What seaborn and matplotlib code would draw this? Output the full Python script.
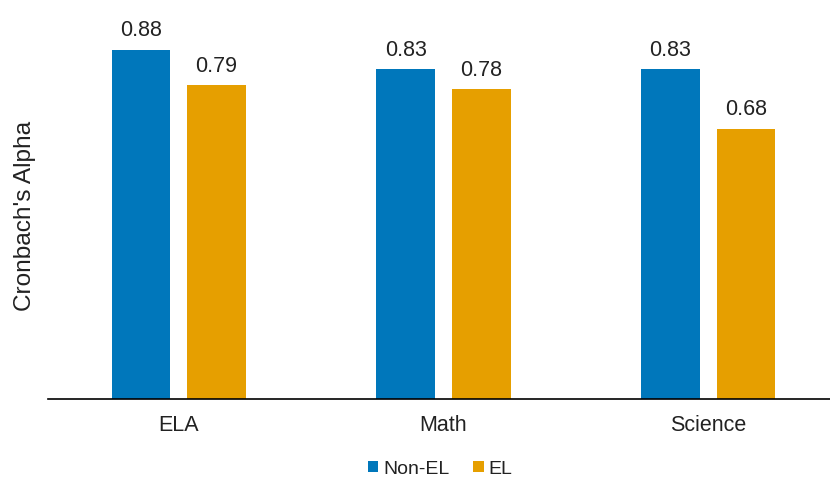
import matplotlib
matplotlib.use("Agg")
import matplotlib.pyplot as plt
import seaborn as sns
import pandas as pd

subjects = ["ELA", "Math", "Science"]
non_el = [0.88, 0.83, 0.83]
el = [0.79, 0.78, 0.68]
groups = ["Non-EL", "EL"]
palette = {"Non-EL": "#0077BB", "EL": "#E69F00"}

df = pd.DataFrame({
    "Subject": subjects * 2,
    "Group": [groups[0]] * len(subjects) + [groups[1]] * len(subjects),
    "Alpha": non_el + el,
})

sns.set_theme(style="white")
plt.rcParams["font.family"] = ["Liberation Sans", "DejaVu Sans"]

fig = plt.figure(figsize=(8.30, 4.81), dpi=100)
ax = fig.add_axes([48 / 830, 81 / 481, 782 / 830, 397 / 481])

sns.barplot(data=df, x="Subject", y="Alpha", hue="Group", hue_order=groups,
            palette=palette, width=0.57, gap=0.22, saturation=1,
            edgecolor="none", ax=ax)

for container in ax.containers:
    ax.bar_label(container, fmt="%.2f", padding=7, fontsize=15.5, color="#222222")

ax.set_ylim(0, 1.0)
ax.set_xlim(-0.494, 2.46)
ax.set_yticks([])
ax.set_xlabel("")
ax.set_ylabel("Cronbach's Alpha", fontsize=17.6, color="#222222")
ax.yaxis.set_label_coords(-0.0153, 0.4635)
ax.tick_params(axis="x", length=0, pad=11, labelsize=15.5, labelcolor="#222222")
for side in ["top", "right", "left"]:
    ax.spines[side].set_visible(False)
ax.spines["bottom"].set_color("#000000")
ax.spines["bottom"].set_linewidth(1.2)

leg = ax.legend(loc="center", bbox_to_anchor=(440 / 830, 11 / 481),
                bbox_transform=fig.transFigure, ncol=2, frameon=False,
                fontsize=14, handlelength=0.55, handleheight=0.55,
                handletextpad=0.25, columnspacing=1.2)
for t in leg.get_texts():
    t.set_color("#222222")

fig.savefig("out.png", dpi=100)
